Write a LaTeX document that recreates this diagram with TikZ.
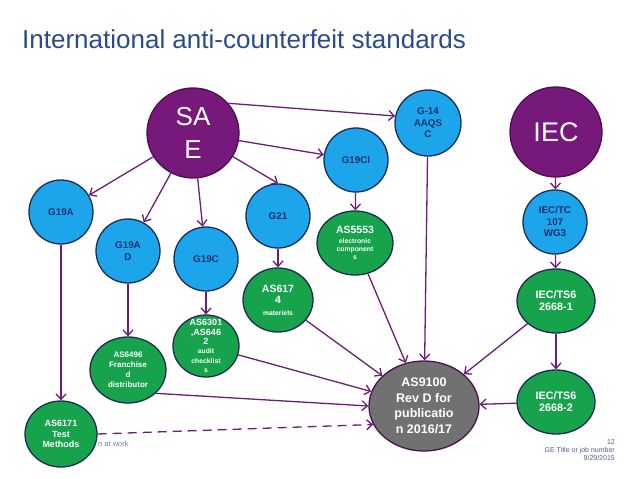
\documentclass[tikz,border=0pt]{standalone}
\usepackage{fontspec}
\setmainfont{Liberation Sans}
\usetikzlibrary{shapes.geometric,arrows.meta}
\definecolor{orgpurple}{HTML}{77187B}
\definecolor{orgedge}{HTML}{4C0F52}
\definecolor{linkpurple}{HTML}{6C1D78}
\definecolor{wgblue}{HTML}{1CA5EA}
\definecolor{stdgreen}{HTML}{16A34B}
\definecolor{rimnavy}{HTML}{1E2B55}
\definecolor{wgtext}{HTML}{1B3170}
\definecolor{titleblue}{HTML}{2A4A8B}
\definecolor{revgray}{HTML}{717171}
\definecolor{footgray}{HTML}{4D5D8A}
\newcommand{\bigpart}{\fontsize{10.5}{12}\selectfont}
\newcommand{\midpart}{\fontsize{9}{10.5}\selectfont}
\newcommand{\smallpart}{\fontsize{6.8}{8.5}\selectfont}
\begin{document}
\begin{tikzpicture}[x=1pt,y=-1pt,>={Straight Barb[length=5.5pt,width=10pt]},
 blob/.style={ellipse,draw=rimnavy,line width=1.3pt,inner sep=-5pt,align=center,font=\bfseries},
 org/.style={blob,draw=orgedge,fill=orgpurple,text=white,minimum width=92,minimum height=90,font=\fontsize{26}{33}\selectfont},
 wg/.style={blob,fill=wgblue,text=wgtext,minimum width=64,minimum height=64,font=\fontsize{9.8}{11.5}\selectfont\bfseries},
 std/.style={blob,fill=stdgreen,text=white,minimum width=74,minimum height=64,font=\fontsize{8.5}{11}\selectfont\bfseries},
 link/.style={->,draw=linkpurple,line width=1.3pt}]
 \useasboundingbox (0,0) rectangle (638,479);
 \node[anchor=base west,text=titleblue,font=\fontsize{26}{30}\selectfont,inner sep=0pt] (title) at (22,48) {International anti-counterfeit standards};

 \node[org] (sae) at (193,133) {SA\\E};
 \node[org,font=\fontsize{27}{33}\selectfont] (iec) at (556,132) {IEC};

 \node[wg,minimum size=66] (g14) at (428,123) {G-14\\AAQS\\C};
 \node[wg] (g19cl) at (356,160) {G19Cl};
 \node[wg] (g19a) at (61,212) {G19A};
 \node[wg] (g19ad) at (128,251) {G19A\\D};
 \node[wg] (g19c) at (206,259) {G19C};
 \node[wg] (g21) at (278,216) {G21};
 \node[wg] (iectc) at (555,222) {IEC/TC\\107\\WG3};

 \node[std,minimum width=70,font=\fontsize{8.5}{11.5}\selectfont\bfseries] (as6174) at (278,300) {\bigpart AS617\\\bigpart 4\\\smallpart materiels};
 \node[std,minimum width=76,font=\fontsize{8}{8}\selectfont\bfseries] (as5553) at (355,243) {\bigpart AS5553\\[1.5pt]\smallpart electronic\\\smallpart component\\\smallpart s};
 \node[std,minimum width=66,minimum height=62,inner sep=-9pt,font=\fontsize{8}{9.4}\selectfont\bfseries] (as6301) at (206,346) {\midpart AS6301\\\midpart ,AS646\\\midpart 2\\\smallpart audit\\\smallpart checklist\\\smallpart s};
 \node[std,minimum width=76,minimum height=66,font=\fontsize{8}{10}\selectfont\bfseries] (as6496) at (128,370) {AS6496\\Franchise\\d\\distributor};
 \node[std,minimum width=72,minimum height=66,font=\fontsize{9}{10.5}\selectfont\bfseries] (as6171) at (61,434) {AS6171\\Test\\Methods};
 \node[std,minimum width=78,font=\fontsize{10.8}{12}\selectfont\bfseries] (ts1) at (556,301) {IEC/TS6\\2668-1};
 \node[std,minimum width=78,font=\fontsize{10.8}{12}\selectfont\bfseries] (ts2) at (556,402) {IEC/TS6\\2668-2};
 \node[blob,draw=orgedge,fill=revgray,text=white,minimum width=110,minimum height=90,font=\fontsize{12.5}{15.5}\selectfont\bfseries] (as9100) at (424,406) {AS9100\\Rev D for\\publicatio\\n 2016/17};

 \draw[link] (sae) -- (g19a);
 \draw[link] (sae) -- (g19ad);
 \draw[link] (sae) -- (g19c);
 \draw[link] (sae) -- (g21.north);
 \draw[link] (sae) -- (g19cl);
 \draw[link] (sae.40) -- (g14.168);
 \draw[link] (g19a) -- (as6171);
 \draw[link] (g19ad) -- (as6496);
 \draw[link] (g19c) -- (as6301);
 \draw[link] (g21) -- (as6174);
 \draw[link] (g19cl) -- (as5553);
 \draw[link] (iec) -- (iectc);
 \draw[link] (iectc) -- (ts1);
 \draw[link] (ts1) -- (ts2);
 \draw[link] (g14) -- (as9100);
 \draw[link] (as5553) -- (as9100);
 \draw[link] (as6174) -- (as9100);
 \draw[link] (as6301) -- (as9100);
 \draw[link] (as6496.-40) -- (as9100.west);
 \draw[link,dashed,dash pattern=on 9pt off 6pt] (as6171.east) -- (as9100.-160);
 \draw[link] (ts1) -- (as9100);
 \draw[link] (ts2) -- (as9100);

 \node[anchor=west,text=footgray!80,font=\fontsize{7.5}{9}\selectfont,inner sep=0pt] (tag) at (98,444) {n at work};
 \node[anchor=north east,align=right,text=footgray,font=\fontsize{7}{8}\selectfont,inner sep=0pt] (foot) at (615,439) {12\\GE Title or job number\\9/29/2015};
\end{tikzpicture}
\end{document}
